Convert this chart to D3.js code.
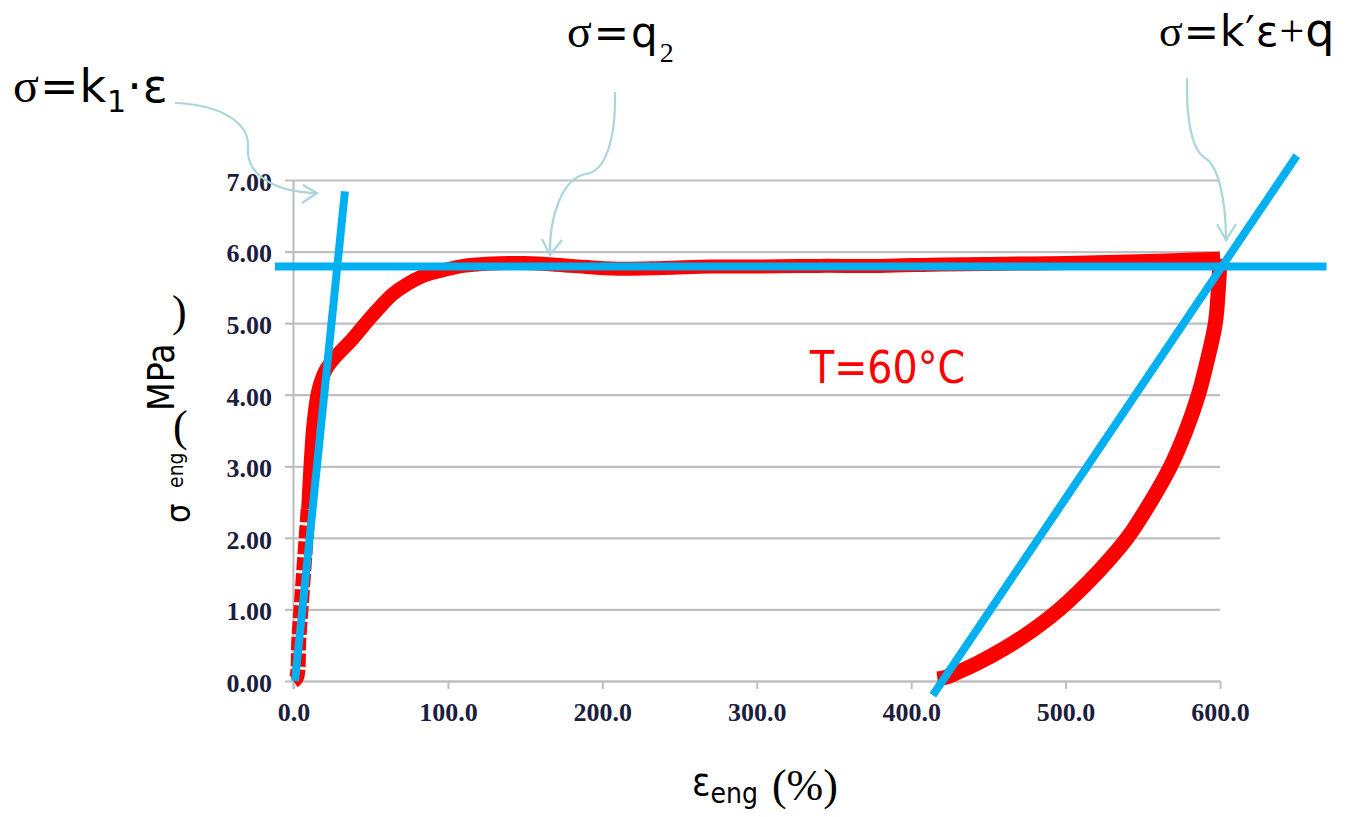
<!DOCTYPE html>
<html>
<head>
<meta charset="utf-8">
<script src="https://cdn.jsdelivr.net/npm/d3@7"></script>
<style>
  html, body { margin: 0; padding: 0; background: #ffffff; }
  svg { display: block; }
</style>
</head>
<body>
<svg id="chart" width="1347" height="817"></svg>
<script>
// ---------- data ----------
const xTicks = [0, 100, 200, 300, 400, 500, 600];
const yTicks = [0, 1, 2, 3, 4, 5, 6, 7];

// loading branch (strain %, stress MPa)
const loadX = [0, 2, 3.5, 5.5, 7.5, 9.5, 11, 13, 16, 21, 28, 37, 46, 55, 64, 74, 85, 97, 110, 125, 150, 180, 210, 240, 270, 300, 340, 380, 420, 460, 500, 540, 570, 600];
const loadY = [0, 0.05, 0.6, 1.2, 1.8, 2.4, 3.0, 3.6, 4.05, 4.35, 4.55, 4.75, 4.98, 5.2, 5.4, 5.55, 5.67, 5.74, 5.8, 5.83, 5.84, 5.8, 5.76, 5.77, 5.79, 5.79, 5.8, 5.8, 5.82, 5.83, 5.84, 5.86, 5.88, 5.9];
// unloading branch
const unloadX = [600, 599, 597, 592, 586, 578, 568, 555, 540, 520, 496, 478, 460, 443, 430, 422, 417];
const unloadY = [5.9, 5.5, 5.0, 4.5, 4.0, 3.5, 3.0, 2.5, 2.0, 1.5, 1.0, 0.7, 0.45, 0.25, 0.12, 0.05, 0.03];

// fitted straight lines: [x1, y1, x2, y2]
const fitK1 = [1, 0, 33.3, 6.84];
const fitQ2 = [-12, 5.79, 669, 5.79];
const fitKq = [414, -0.2, 649.7, 7.34];

// ---------- layout ----------
const svg = d3.select("#chart");
const x = d3.scaleLinear().domain([0, 600]).range([293.5, 1220]);
const y = d3.scaleLinear().domain([0, 7]).range([681, 180]);

const gridColor = "#bfbfbf";
const tickFont = "'Liberation Serif', 'Times New Roman', serif";
const condFont = "'DejaVu Sans Condensed', 'DejaVu Sans', Verdana, sans-serif";
const sansFont = "'DejaVu Sans', Verdana, sans-serif";
const serifFont = "'Liberation Serif', 'Times New Roman', serif";

// y axis with gridlines
const yAxis = d3.axisLeft(y)
  .tickValues(yTicks)
  .tickFormat(d3.format(".2f"))
  .tickSize(-(1220 - 285))
  .tickPadding(13);
const gy = svg.append("g").attr("transform", "translate(285,0)").call(yAxis);
gy.select(".domain").remove();
gy.selectAll(".tick line").attr("stroke", gridColor).attr("stroke-width", 2.2);
gy.selectAll(".tick text")
  .attr("font-family", tickFont).attr("font-weight", "bold")
  .attr("font-size", 26).attr("fill", "#1d1d3d").attr("dy", "0.4em");

// x axis
const xAxis = d3.axisBottom(x)
  .tickValues(xTicks)
  .tickFormat(d3.format(".1f"))
  .tickSizeInner(8).tickSizeOuter(0)
  .tickPadding(14);
const gx = svg.append("g").attr("transform", "translate(0,681)").call(xAxis);
gx.select(".domain").attr("stroke", gridColor).attr("stroke-width", 2.2);
gx.selectAll(".tick line").attr("stroke", gridColor).attr("stroke-width", 2);
gx.selectAll(".tick text")
  .attr("font-family", tickFont).attr("font-weight", "bold")
  .attr("font-size", 26).attr("fill", "#1d1d3d");

// vertical axis line
svg.append("line")
  .attr("x1", x(0)).attr("x2", x(0))
  .attr("y1", y(7)).attr("y2", y(0) + 8)
  .attr("stroke", gridColor).attr("stroke-width", 2.2);

// ---------- red curve ----------
const line = d3.line().x(d => x(d[0])).y(d => y(d[1])).curve(d3.curveCatmullRom);
const loadPts = loadX.map((v, i) => [v, loadY[i]]);
const unloadPts = unloadX.map((v, i) => [v, unloadY[i]]);
const splitIdx = 5;

svg.append("path")
  .attr("d", line(loadPts.slice(0, splitIdx + 1)))
  .attr("fill", "none").attr("stroke", "#ff0000").attr("stroke-width", 15)
  .attr("stroke-dasharray", "13,3");
svg.append("path")
  .attr("d", line(loadPts.slice(splitIdx)))
  .attr("fill", "none").attr("stroke", "#ff0000").attr("stroke-width", 14)
  .attr("stroke-linejoin", "round");
svg.append("path")
  .attr("d", line(unloadPts))
  .attr("fill", "none").attr("stroke", "#ff0000").attr("stroke-width", 15)
  .attr("stroke-linejoin", "round");

// ---------- blue fit lines ----------
[fitK1, fitQ2, fitKq].forEach(f => {
  svg.append("line")
    .attr("x1", x(f[0])).attr("y1", y(f[1]))
    .attr("x2", x(f[2])).attr("y2", y(f[3]))
    .attr("stroke", "#00b0f0").attr("stroke-width", 8);
});

// ---------- annotation arrows ----------
const arrowColor = "#a9d6da";
const arrows = [
  { d: "M175,103 C225,105 250,125 248,148 C246,172 270,192 317,193", head: "M303,185 L317,193 L302,203" },
  { d: "M615,92 C616,140 605,172 586,174 C563,178 549,215 550,255", head: "M542,239 L550,255 L562,240" },
  { d: "M1187,78 C1186,120 1192,150 1205,158 C1218,165 1226,200 1226,240", head: "M1217,224 L1226,240 L1236,224" }
];
arrows.forEach(a => {
  svg.append("path").attr("d", a.d).attr("fill", "none")
    .attr("stroke", arrowColor).attr("stroke-width", 2.2);
  svg.append("path").attr("d", a.head).attr("fill", "none")
    .attr("stroke", arrowColor).attr("stroke-width", 2.2);
});

// ---------- annotation texts ----------
// σ=k1·ε
const t1 = svg.append("text").attr("x", 13).attr("y", 102).attr("fill", "#000").attr("letter-spacing", 1);
t1.append("tspan").attr("font-family", serifFont).attr("font-size", 48).text("σ");
t1.append("tspan").attr("font-family", sansFont).attr("font-size", 46).text("=k");
t1.append("tspan").attr("font-family", sansFont).attr("font-size", 30).attr("dy", 10).text("1");
t1.append("tspan").attr("font-family", sansFont).attr("font-size", 46).attr("dy", -10).text("·ε");

// σ=q2
const t2 = svg.append("text").attr("x", 567).attr("y", 47).attr("fill", "#000").attr("letter-spacing", 2);
t2.append("tspan").attr("font-family", serifFont).attr("font-size", 46).text("σ");
t2.append("tspan").attr("font-family", sansFont).attr("font-size", 42).text("=q");
t2.append("tspan").attr("font-family", serifFont).attr("font-size", 28).attr("dy", 15).text("2");

// σ=k'ε+q
const t3 = svg.append("text").attr("x", 1159).attr("y", 46).attr("fill", "#000").attr("letter-spacing", 1);
t3.append("tspan").attr("font-family", serifFont).attr("font-size", 44).text("σ");
t3.append("tspan").attr("font-family", sansFont).attr("font-size", 42).text("=k′ε");
t3.append("tspan").attr("font-family", serifFont).attr("font-size", 44).text("+");
t3.append("tspan").attr("font-family", sansFont).attr("font-size", 46).text("q");

// T=60°C
svg.append("text").attr("x", 810).attr("y", 383)
  .attr("font-family", condFont).attr("font-size", 44).attr("fill", "#ff0000")
  .text("T=60°C");

// x axis title: ε_eng (%)
const xt = svg.append("text").attr("x", 692).attr("y", 795).attr("fill", "#000");
xt.append("tspan").attr("font-family", condFont).attr("font-size", 38).text("ε");
xt.append("tspan").attr("font-family", condFont).attr("font-size", 28).attr("dy", 8).text("eng");
xt.append("tspan").attr("font-family", serifFont).attr("font-size", 44).attr("dy", -3).attr("dx", 14).text("(%)");

// y axis title: σ^eng (MPa) - rotated pieces with upright parentheses
svg.append("text").attr("transform", "translate(190,523) rotate(-90)")
  .attr("font-family", condFont).attr("font-size", 34).attr("fill", "#000").text("σ");
svg.append("text").attr("transform", "translate(183,488) rotate(-90)")
  .attr("font-family", condFont).attr("font-size", 21).attr("fill", "#000").text("eng");
svg.append("text").attr("x", 173).attr("y", 441)
  .attr("font-family", serifFont).attr("font-size", 44).attr("fill", "#000").text("(");
svg.append("text").attr("transform", "translate(174,411) rotate(-90)")
  .attr("font-family", condFont).attr("font-size", 37).attr("fill", "#000").text("MPa");
svg.append("text").attr("x", 172).attr("y", 326)
  .attr("font-family", serifFont).attr("font-size", 44).attr("fill", "#000").text(")");
</script>
</body>
</html>
